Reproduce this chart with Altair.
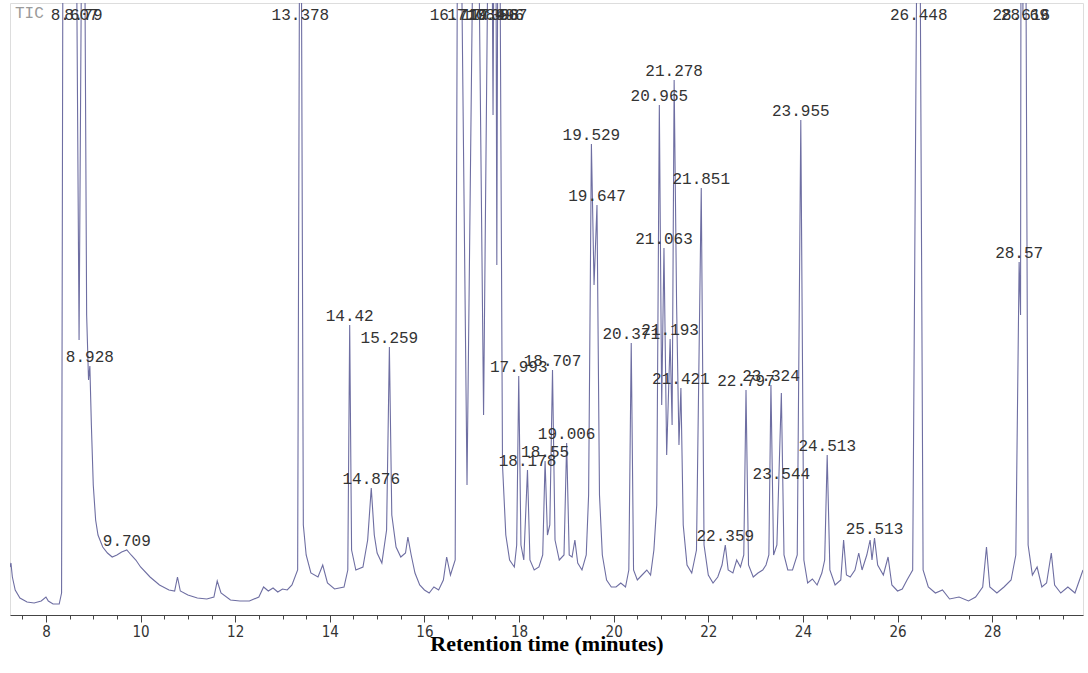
import altair as alt
import pandas as pd

# Total ion chromatogram trace: retention time (min) and detector abundance (arbitrary units)
trace_time = [
    7.24, 7.26, 7.29, 7.35, 7.45, 7.60, 7.75, 7.90, 8.00, 8.05, 8.15, 8.28, 8.33,
    8.37, 8.607, 8.70, 8.79, 8.86, 8.90, 8.928, 8.96, 9.00, 9.05, 9.10, 9.20, 9.30,
    9.40, 9.50, 9.60, 9.709, 9.80, 9.90, 10.00, 10.20, 10.40, 10.60, 10.72, 10.78,
    10.84, 11.00, 11.20, 11.40, 11.55, 11.62, 11.70, 11.90, 12.10, 12.30, 12.50,
    12.60, 12.70, 12.80, 12.90, 13.00, 13.10, 13.20, 13.32, 13.378, 13.44, 13.50,
    13.60, 13.75, 13.85, 13.95, 14.10, 14.30, 14.38, 14.42, 14.46, 14.55, 14.70,
    14.80, 14.876, 14.94, 15.00, 15.10, 15.20, 15.259, 15.31, 15.40, 15.50, 15.60,
    15.65, 15.72, 15.80, 15.90, 16.00, 16.10, 16.20, 16.30, 16.40, 16.47, 16.55,
    16.65, 16.719, 16.90, 17.089, 17.25, 17.398, 17.45, 17.496, 17.53, 17.567,
    17.65, 17.72, 17.80, 17.90, 17.95, 17.993, 18.04, 18.10, 18.178, 18.23, 18.32,
    18.42, 18.50, 18.55, 18.60, 18.65, 18.707, 18.76, 18.85, 18.95, 19.006, 19.06,
    19.12, 19.18, 19.24, 19.33, 19.42, 19.47, 19.529, 19.585, 19.647, 19.70, 19.76,
    19.85, 19.95, 20.05, 20.15, 20.25, 20.32, 20.371, 20.42, 20.50, 20.60, 20.70,
    20.78, 20.85, 20.91, 20.965, 21.015, 21.063, 21.12, 21.193, 21.235, 21.278,
    21.33, 21.38, 21.421, 21.47, 21.55, 21.65, 21.75, 21.851, 21.91, 22.00, 22.10,
    22.20, 22.29, 22.359, 22.42, 22.52, 22.60, 22.68, 22.75, 22.797, 22.85, 22.95,
    23.05, 23.15, 23.22, 23.28, 23.324, 23.38, 23.45, 23.544, 23.60, 23.68, 23.78,
    23.88, 23.955, 24.02, 24.10, 24.20, 24.30, 24.40, 24.46, 24.513, 24.57, 24.68,
    24.80, 24.86, 24.92, 25.00, 25.10, 25.18, 25.25, 25.35, 25.42, 25.46, 25.513,
    25.58, 25.70, 25.80, 25.88, 26.00, 26.10, 26.20, 26.32, 26.448, 26.54, 26.65,
    26.80, 26.95, 27.10, 27.30, 27.50, 27.65, 27.80, 27.88, 27.95, 28.10, 28.25,
    28.40, 28.50, 28.57, 28.60, 28.616, 28.65, 28.69, 28.76, 28.85, 28.95, 29.05,
    29.15, 29.25, 29.32, 29.45, 29.60, 29.75, 29.92,
]
trace_abund = [
    48, 52, 38, 25, 17, 13, 12, 14, 18, 14, 11, 11, 22,
    950, 950, 275, 950, 300, 235, 249, 190, 130, 95, 80, 68, 62,
    58, 60, 63, 65, 60, 55, 48, 38, 30, 25, 24, 38,
    24, 20, 17, 16, 18, 34, 22, 15, 14, 14, 18,
    28, 24, 27, 23, 26, 25, 30, 45, 950, 90, 60,
    42, 38, 50, 32, 26, 28, 45, 290, 65, 45, 48,
    75, 127, 80, 62, 52, 85, 268, 100, 68, 58, 62,
    78, 60, 42, 30, 25, 22, 28, 25, 35, 58, 40,
    55, 950, 130, 950, 200, 950, 500, 950, 350, 950,
    150, 80, 55, 48, 70, 239, 70, 55, 145, 55, 45,
    48, 60, 154, 80, 90, 245, 75, 55, 60, 172, 60,
    58, 75, 52, 45, 60, 120, 471, 330, 410, 120, 60,
    35, 28, 28, 32, 28, 45, 272, 45, 35, 40, 45,
    40, 65, 110, 510, 210, 367, 160, 276, 190, 535,
    310, 170, 227, 90, 50, 42, 65, 427, 70, 40, 32,
    38, 50, 70, 45, 42, 55, 48, 60, 225, 50, 38,
    42, 45, 50, 60, 230, 60, 70, 222, 60, 45, 45,
    60, 495, 55, 32, 36, 30, 42, 55, 160, 45, 30,
    35, 75, 40, 38, 45, 62, 45, 60, 75, 55, 77,
    50, 40, 58, 30, 24, 26, 35, 45, 950, 45, 28,
    22, 25, 16, 18, 14, 18, 28, 68, 28, 22, 28,
    35, 60, 353, 300, 950, 600, 950, 70, 40, 48, 28,
    32, 62, 30, 22, 28, 22, 45,
]

# Integrated peaks annotated with their retention times
peak_labels = [
    "8.607", "8.79", "8.928", "9.709", "13.378", "14.42", "14.876", "15.259",
    "16.719", "17.089", "17.398", "17.496", "17.567", "17.993", "18.178",
    "18.55", "18.707", "19.006", "19.529", "19.647", "20.371", "20.965",
    "21.063", "21.193", "21.278", "21.421", "21.851", "22.359", "22.797",
    "23.324", "23.544", "23.955", "24.513", "25.513", "26.448", "28.57",
    "28.616", "28.69",
]
# Labels pushed below a crowded neighbour (abundance at which the text sits)
label_moved = {"23.544": 141}

major_ticks = list(range(8, 30, 2))
minor_ticks = [7.5 + 0.5 * i for i in range(45)]

FULL_SCALE = 612
LABEL_TOP = 600

trace = pd.DataFrame({"time": trace_time, "abundance": trace_abund})

apex = dict(zip(trace_time, trace_abund))
rows = []
for text in peak_labels:
    t = float(text)
    h = label_moved.get(text, min(apex[t] + 9, LABEL_TOP))
    rows.append({"time": t, "label_y": h, "label": text})
labels = pd.DataFrame(rows)

x_scale = alt.Scale(domain=[7.24, 29.92], nice=False, zero=False)
y_scale = alt.Scale(domain=[0, FULL_SCALE], nice=False)

major_axis = alt.Axis(
    orient="bottom",
    values=major_ticks,
    format="d",
    labelOverlap=False,
    labelFont="Liberation Sans Narrow, DejaVu Sans Condensed, Liberation Sans",
    labelFontSize=15,
    labelColor="#333333",
    labelPadding=2,
    tickColor="#444444",
    tickSize=7,
    domainColor="#444444",
    grid=False,
    title="Retention time (minutes)",
    titleFont="Liberation Serif",
    titleFontWeight="bold",
    titleFontSize=22,
    titleColor="#000000",
    titlePadding=-6,
)

minor_axis = alt.Axis(
    orient="bottom",
    values=minor_ticks,
    labels=False,
    tickColor="#444444",
    tickSize=4,
    domain=False,
    grid=False,
    title=None,
)

line = alt.Chart(trace).mark_line(
    clip=True, color="#6e6ea2", strokeWidth=1.1, interpolate="linear"
).encode(
    x=alt.X("time:Q", scale=x_scale, axis=major_axis),
    y=alt.Y("abundance:Q", scale=y_scale, axis=None),
    order="time:Q",
)

text = alt.Chart(labels).mark_text(
    font="Liberation Mono", fontSize=16, color="#333333",
    align="center", baseline="middle",
).encode(
    x=alt.X("time:Q", scale=x_scale, axis=minor_axis),
    y=alt.Y("label_y:Q", scale=y_scale, axis=None),
    text="label:N",
)

chart = alt.layer(line, text).resolve_axis(x="independent").properties(
    width=1073,
    height=612,
    autosize=alt.AutoSizeParams(type="none"),
    padding={"left": 10, "top": 3, "right": 5, "bottom": 58},
    title=alt.TitleParams(
        "TIC", anchor="start", orient="top", offset=0, dx=5, dy=18,
        font="Liberation Mono", fontSize=16, fontWeight="normal", color="#9a9a9a",
    ),
).configure_view(
    stroke="#444444", strokeWidth=1
).configure(background="white")

chart.save("out.html", embed_options={"renderer": "svg", "actions": False})
